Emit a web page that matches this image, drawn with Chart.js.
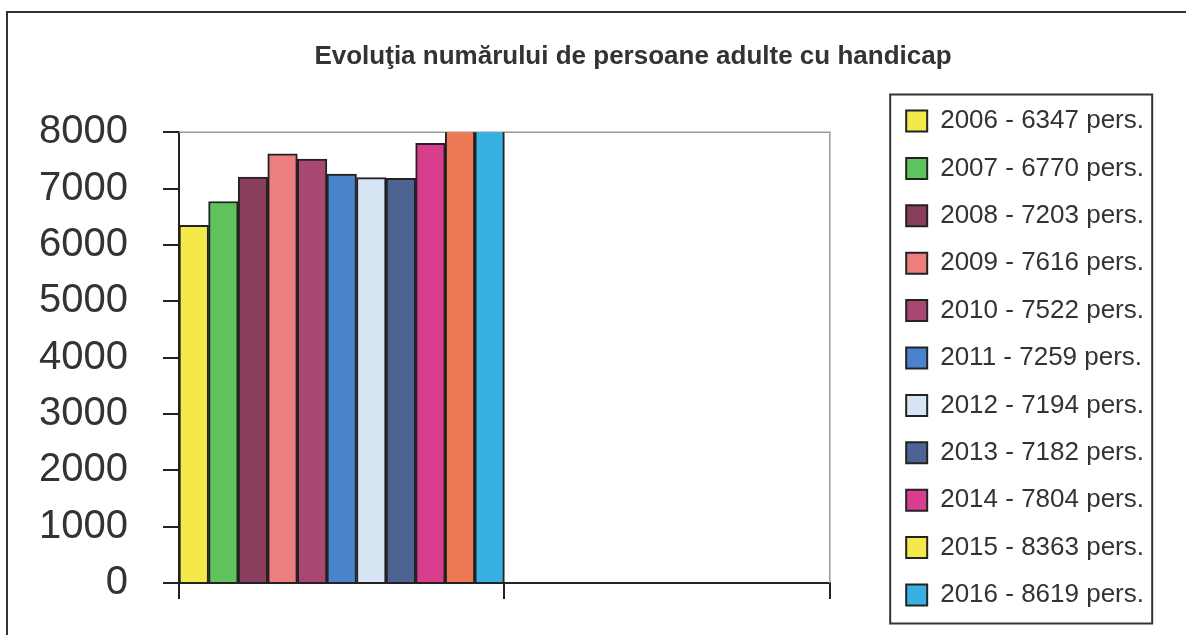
<!DOCTYPE html>
<html>
<head>
<meta charset="utf-8">
<script src="https://cdn.jsdelivr.net/npm/chart.js@4.4.0/dist/chart.umd.min.js"></script>
<style>
  body { margin: 0; background: #fff; }
  #wrap { width: 1186px; height: 635px; }
</style>
</head>
<body>
<div id="wrap"><canvas id="canBar" width="1186" height="635"></canvas></div>
<script>
// values (legend gives the exact numbers)
var years = ['2006', '2007', '2008', '2009', '2010', '2011', '2012', '2013', '2014', '2015', '2016'];
var persons = [6347, 6770, 7203, 7616, 7522, 7259, 7194, 7182, 7804, 8363, 8619];
var barColors = ['#f4e94a', '#5ec35c', '#8a3d5c', '#ec7f7d', '#a8476f', '#4a82cc',
                 '#d6e4f4', '#4d6493', '#d93d8e', '#ec7a55', '#38b0e4'];
// the 2015 swatch in the legend is yellow, not orange like its bar
var swatchColors = ['#f4e94a', '#5ec35c', '#8a3d5c', '#ec7f7d', '#a8476f', '#4a82cc',
                    '#d6e4f4', '#4d6493', '#d93d8e', '#f4e94a', '#38b0e4'];
var categories = ['', ''];
var yMin = 0, yMax = 8000, yStep = 1000;

Chart.defaults.font.family = "'Liberation Sans', Arial, sans-serif";
Chart.defaults.color = '#333';

var datasets = [];
for (var i = 0; i < years.length; i++) {
    datasets.push({
        label: years[i] + ' - ' + persons[i] + ' pers.',
        data: [persons[i], null],
        backgroundColor: barColors[i],
        borderColor: '#222',
        borderWidth: 2,
        categoryPercentage: 1.0,
        barPercentage: 1.0
    });
}

var framePlugin = {
    id: 'frame',
    beforeDatasetsDraw: function (chart) {
        var a = chart.chartArea, ctx = chart.ctx;
        ctx.save();
        ctx.strokeStyle = '#9a9a9a';
        ctx.lineWidth = 1.5;
        ctx.beginPath();
        ctx.moveTo(a.left, a.top);
        ctx.lineTo(a.right, a.top);
        ctx.lineTo(a.right, a.bottom);
        ctx.stroke();
        ctx.restore();
    },
    afterDraw: function (chart) {
        var ctx = chart.ctx;
        var hb = chart.legend.legendHitBoxes;
        ctx.save();
        ctx.strokeStyle = '#333';
        ctx.lineWidth = 2;
        // box round the legend
        var l = hb[0].left - 16, t = hb[0].top - 13.5;
        var r = hb[0].left + 246, b = hb[hb.length - 1].top + 26 + 15.5;
        ctx.strokeRect(l, t, r - l, b - t);
        // outer frame of the scanned chart
        ctx.beginPath();
        ctx.moveTo(7, 635);
        ctx.lineTo(7, 12);
        ctx.lineTo(1186, 12);
        ctx.stroke();
        ctx.restore();
    }
};

var ctx = document.getElementById('canBar').getContext('2d');
new Chart(ctx, {
    type: 'bar',
    data: {
        labels: categories,
        datasets: datasets
    },
    plugins: [framePlugin],
    options: {
        responsive: false,
        animation: false,
        layout: { padding: { left: 30, right: -50, top: 0, bottom: 0 } },
        plugins: {
            title: {
                display: true,
                text: 'Evoluţia numărului de persoane adulte cu handicap',
                color: '#333',
                font: { size: 26, weight: 'bold' },
                padding: { top: 41, bottom: 60 }
            },
            legend: {
                position: 'right',
                align: 'start',
                title: { display: true, text: ' ', font: { size: 10 }, padding: { top: 74.6, bottom: 0 } },
                labels: {
                    boxWidth: 21,
                    boxHeight: 21,
                    padding: 21.4,
                    color: '#222',
                    font: { size: 26 },
                    generateLabels: function (chart) {
                        return chart.data.datasets.map(function (ds, i) {
                            return {
                                text: ds.label,
                                fillStyle: swatchColors[i],
                                strokeStyle: '#222',
                                lineWidth: 2,
                                datasetIndex: i
                            };
                        });
                    }
                }
            },
            tooltip: { enabled: false }
        },
        scales: {
            x: {
                ticks: { display: true },
                grid: { drawOnChartArea: false, tickLength: 16, color: '#222', lineWidth: 2 },
                border: { color: '#222', width: 2 },
                afterFit: function (s) { s.height = 52; }
            },
            y: {
                min: yMin,
                max: yMax,
                ticks: {
                    stepSize: yStep,
                    padding: 35,
                    color: '#333',
                    font: { size: 40 },
                    callback: function (v) { return String(v); }
                },
                grid: { drawOnChartArea: false, tickLength: 16, color: '#222', lineWidth: 2 },
                border: { color: '#222', width: 2 },
                afterFit: function (s) {
                    s.width = 149;
                    s.paddingTop = 0;
                    s.paddingBottom = 0;
                }
            },
            // empty spacers: gap between plot and legend, and right of legend
            y2: {
                type: 'linear',
                position: 'right',
                display: false,
                afterFit: function (s) { s.width = 55; }
            },
            y3: {
                type: 'linear',
                position: 'right',
                display: false,
                weight: 2000,
                afterFit: function (s) { s.width = 82; }
            }
        }
    }
});
</script>
</body>
</html>
